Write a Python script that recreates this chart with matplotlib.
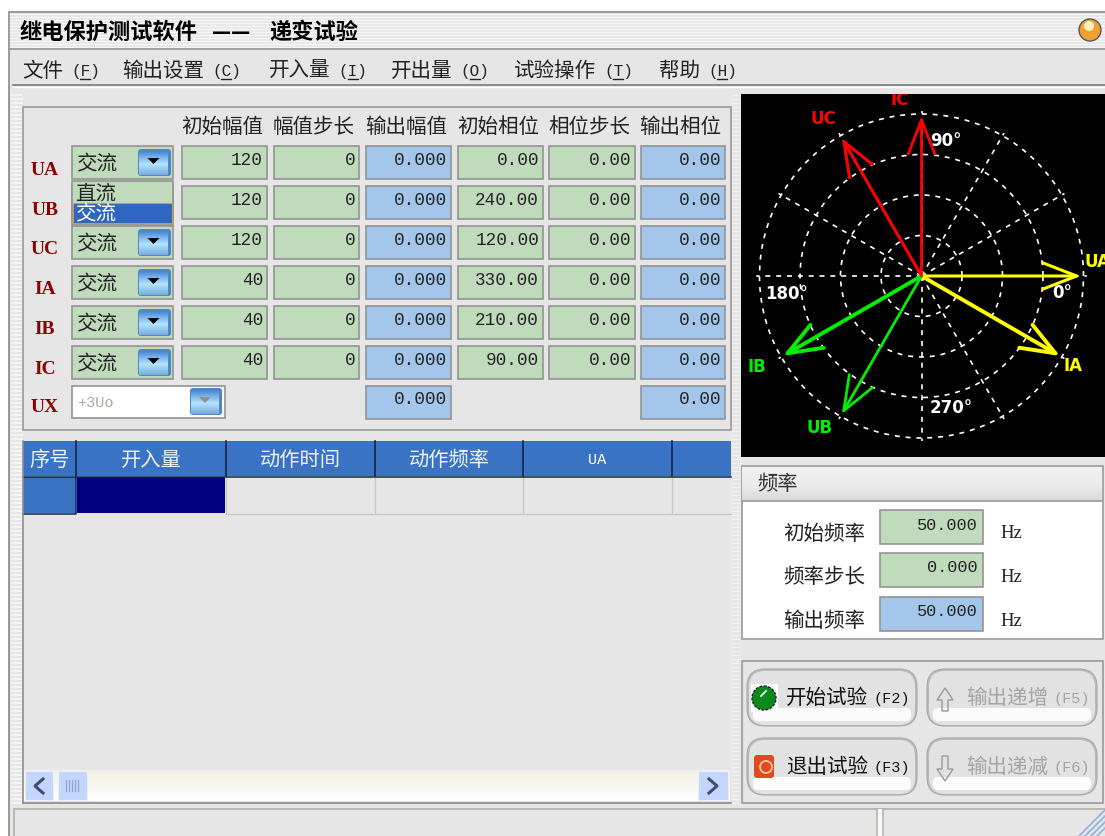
import numpy as np
import matplotlib
matplotlib.use("Agg")
import matplotlib.pyplot as plt
from matplotlib.patches import Rectangle, FancyBboxPatch, Circle, Polygon

plt.rcParams['font.family'] = ['Noto Sans CJK SC', 'DejaVu Sans']

# ---------- data ----------
channels = ['UA', 'UB', 'UC', 'IA', 'IB', 'IC']
col_headers = ['初始幅值', '幅值步长', '输出幅值', '初始相位', '相位步长', '输出相位']
start_amp = ['120', '120', '120', '40', '40', '40']
amp_step = ['0', '0', '0', '0', '0', '0']
out_amp = ['0.000'] * 7
start_phase = ['0.00', '240.00', '120.00', '330.00', '210.00', '90.00']
phase_step = ['0.00'] * 6
out_phase = ['0.00'] * 7
table_headers = ['序号', '开入量', '动作时间', '动作频率', 'UA', '']
menu_names = ['文件', '输出设置', '开入量', '开出量', '试验操作', '帮助']
menu_keys = ['F', 'C', 'I', 'O', 'T', 'H']
freq_labels = ['初始频率', '频率步长', '输出频率']
freq_values = ['50.000', '0.000', '50.000']

phasor_names = ['UA', 'UB', 'UC', 'IA', 'IB', 'IC']
phasor_deg = [0, 240, 120, 330, 210, 90]
phasor_mag = [120, 120, 120, 40, 40, 40]
phasor_full = [122, 122, 122, 40.5, 40.5, 40.5]
phasor_col = ['#ffff00', '#00ee00', '#ff0000', '#ffff00', '#00ee00', '#ff0000']
phasor_lw = [2.2, 2.0, 2.2, 2.8, 2.8, 2.0]

MONO = 'Liberation Mono'
SERIF = 'Liberation Serif'
BG = '#e6e6e6'
GREEN = '#c0dabc'
BLUE = '#a3c6ea'
EDGE = '#949494'

W, H = 1105, 837
fig = plt.figure(figsize=(W / 100, H / 100), dpi=100, facecolor='white')
ax = fig.add_axes([0, 0, 1, 1])
ax.set_axis_off()


def rect(x0, y0, x1, y1, fc=BG, ec='none', lw=1.0, z=1):
    ax.add_patch(Rectangle((x0, y0), x1 - x0, y1 - y0, facecolor=fc, edgecolor=ec, linewidth=lw, zorder=z))


def cn(x, y, s, size=14.8, color='#111111', ha='left', weight='normal', z=6):
    return ax.text(x, y + 2, s, fontsize=size, color=color, ha=ha, va='center', weight=weight, zorder=z)


def mono(x, y, s, size=12.7, color='#222222', ha='left', weight='normal', z=6):
    return ax.text(x, y, s, fontsize=size, family=MONO, color=color, ha=ha, va='center', weight=weight, zorder=z)


def vgrad(x0, y0, x1, y1, top, mid, bot, z=3):
    c = np.array([matplotlib.colors.to_rgb(v) for v in (top, mid, bot)])
    t = np.linspace(0, 1, 24)
    img = np.stack([np.interp(t, [0, .55, 1], c[:, i]) for i in range(3)], axis=1)[:, None, :]
    ax.imshow(img, extent=(x0, x1, y1, y0), aspect='auto', zorder=z, interpolation='bilinear')


# ---------- window ----------
rect(8.5, 12.5, 1106, 838, fc=BG, ec='#8a8a8a', lw=1.2, z=0)
for y in range(15, 49, 3):
    ax.plot([10, 1105], [y, y], color='#f6f6f6', lw=1.0, zorder=1)
ax.plot([9, 1105], [50, 50], color='#969696', lw=1.2, zorder=2)
ax.plot([13, 1105], [86, 86], color='#7a7a7a', lw=1.2, zorder=2)
ax.plot([13, 1105], [88, 88], color='#ffffff', lw=1.0, zorder=2)
for y in range(96, 806, 4):
    ax.plot([12, 22], [y, y], color='#f7f7f7', lw=1.2, zorder=1)
    ax.plot([731, 741], [y, y], color='#f0f0f0', lw=1.0, zorder=1)

cn(20, 30, '继电保护测试软件', size=16, weight='bold', color='black')
cn(212, 30, '——', size=15.2, weight='bold', color='black')
cn(269, 30, '递变试验', size=16, weight='bold', color='black')
ax.add_patch(Circle((1090, 31), 11, fc='#f0a030', ec='#555555', lw=1.0, zorder=3))
ax.add_patch(Circle((1089, 27), 5, fc='#fff0c0', ec='none', zorder=4))

menu_x = [22, 122, 269, 391, 514, 659]
for x, name, key in zip(menu_x, menu_names, menu_keys):
    w = 20.5 * len(name)
    cn(x, 69, name, color='#222222')
    mono(x + w + 8, 71, f'({key})', size=11.5, color='#222222')
    ax.plot([x + w + 17, x + w + 27], [80, 80], color='#222222', lw=1, zorder=6)

# ---------- parameter group ----------
rect(22.5, 107.5, 731, 431, fc=BG, ec='#9a9a9a', lw=1.2)
col_x = [(181, 267), (273, 359), (365, 451), (457, 543), (548, 635), (640, 725)]
row_y = [163, 203, 243, 283, 323, 363, 403]
label_y = [170, 210, 249, 289, 329, 369, 408]
for (x0, x1), h in zip(col_x, col_headers):
    cn((x0 + x1) / 2 - 2, 125, h, ha='center', size=14.8, color='#222222')


def field(col, y, s, fc):
    x0, x1 = col_x[col]
    rect(x0 + .5, y - 16.5, x1 - .5, y + 16.5, fc=fc, ec=EDGE, lw=1.2, z=2)
    mono(x1 - 4, y - 3, s, ha='right')


def dropbtn(x0, y0, x1, y1, tri='black'):
    ax.add_patch(FancyBboxPatch((x0 + 3, y0 + 3), x1 - x0 - 6, y1 - y0 - 6, boxstyle='round,pad=3,rounding_size=3',
                                fc='#4f86c6', ec='none', zorder=3))
    vgrad(x0 + 1, y0 + 2, x1 - 3, y1 - 1, '#4a88d6', '#b4e4ff', '#78aee0', z=3.5)
    cx = (x0 + x1) / 2 - 1
    ax.add_patch(Polygon([(cx - 6, y0 + 9), (cx + 6, y0 + 9), (cx, y0 + 15)], closed=True, fc=tri, ec='none', zorder=5))


for i, ch in enumerate(channels + ['UX']):
    y = row_y[i]
    ax.text(45, label_y[i], ch, fontsize=14, family=SERIF, weight='bold', color='#8b0000', ha='center', va='center', zorder=6)
    if i < 6:
        rect(71.5, y - 16.5, 173, y + 16.5, fc=GREEN, ec=EDGE, lw=1.2, z=2)
        if i != 1:
            cn(76, y - 1, '交流', color='#222222')
            dropbtn(138, y - 13, 171, y + 14)
        field(0, y, start_amp[i], GREEN)
        field(1, y, amp_step[i], GREEN)
        field(3, y, start_phase[i], GREEN)
        field(4, y, phase_step[i], GREEN)
    field(2, y, out_amp[i], BLUE)
    field(5, y, out_phase[i], BLUE)

# open drop-down of the UB row
rect(72, 182, 173, 226, fc=GREEN, ec=EDGE, lw=1.2, z=7)
cn(75, 192, '直流', color='#222222', z=8)
rect(73, 204, 172, 224, fc='#2f66c0', ec='#c89a50', lw=0.8, z=8)
cn(75, 212, '交流', color='white', z=9)

# UX combo
rect(71.5, 386.5, 225, 419, fc='white', ec=EDGE, lw=1.2, z=2)
mono(77, 403, '+3Uo', size=11, color='#a8a8a0')
dropbtn(190, 389, 222, 416, tri='#909090')

# ---------- results table ----------
rect(23, 442, 731, 804, fc=BG, ec='none')
tx = [23, 76, 226, 375, 523, 672, 731]
for i, h in enumerate(table_headers):
    rect(tx[i], 442, tx[i + 1], 477, fc='#3a72c4', ec='none', z=2)
    if i:
        ax.plot([tx[i], tx[i]], [442, 477], color='#10264a', lw=1.2, zorder=3)
    if h == 'UA':
        mono((tx[i] + tx[i + 1]) / 2, 460, h, size=11, color='white')
        ax.texts[-1].set_ha('center')
    elif h:
        cn((tx[i] + tx[i + 1]) / 2, 458, h, ha='center', color='#eef2fa', size=14.6)
    if i >= 2:
        ax.plot([tx[i], tx[i]], [478, 514], color='#c8c8c8', lw=1.0, zorder=3)
ax.plot([23, 731], [477.5, 477.5], color='#10264a', lw=1.1, zorder=3)
rect(23, 478, 76, 514, fc='#3a72c4', ec='none', z=2)
ax.plot([23, 76, 76], [514.5, 514.5, 478], color='#10264a', lw=1.1, zorder=3)
rect(77, 478, 225, 514, fc='#000080', ec='none', z=2)
ax.plot([226, 731], [514.5, 514.5], color='#c8c8c8', lw=1.0, zorder=3)
ax.plot([23, 23], [442, 804], color='#8f8f8f', lw=1.2, zorder=3)
ax.plot([23, 731], [804, 804], color='#8a8a8a', lw=1.2, zorder=3)

# scroll bar
vgrad(24, 771, 730, 802, '#f2f1e6', '#f8f8f0', '#ffffff', z=2)
for x0, x1, mk in [(25, 53, 'l'), (698, 728, 'r')]:
    rect(x0, 772, x1, 801, fc='#c4d6fb', ec='#e8efff', lw=0.8, z=3)
    cx = (x0 + x1) / 2
    pts = [(cx + 4, 780), (cx - 4, 787), (cx + 4, 794)] if mk == 'l' else [(cx - 4, 780), (cx + 4, 787), (cx - 4, 794)]
    ax.plot(*zip(*pts), color='#3c4e78', lw=2.2, zorder=5)
rect(58, 772, 87, 801, fc='#c4d6fb', ec='#e8efff', lw=0.8, z=3)
for x in range(66, 80, 3):
    ax.plot([x, x], [781, 792], color='#8fa3cf', lw=0.9, zorder=5)

# ---------- frequency panel ----------
rect(741.5, 467, 1103, 640, fc='white', ec='#9a9a9a', lw=1.2)
vgrad(742, 468, 1102, 502, '#f0f0f0', '#ececec', '#d8d8d8')
ax.plot([742, 1102], [502, 502], color='#9a9a9a', lw=1.2, zorder=4)
cn(757, 482, '频率', color='#333333', size=14.6)
freq_y = [528, 571, 615]
freq_fc = [GREEN, GREEN, BLUE]
for y, lab, val, fc in zip(freq_y, freq_labels, freq_values, freq_fc):
    cn(783, y + 4, lab, color='#222222', size=14.8)
    rect(879.5, y - 17, 983, y + 17, fc=fc, ec=EDGE, lw=1.2, z=3)
    mono(978, y - 3, val, ha='right', size=12.2)
    ax.text(1000, y + 6, 'Hz', fontsize=13.5, family=SERIF, color='#222222', ha='left', va='center', zorder=6)

# ---------- button panel ----------
rect(741.5, 661.5, 1103, 804, fc=BG, ec='#9a9a9a', lw=1.2)
btn_x = [747, 927]
btn_y = [670, 739]
btn_w, btn_h = 170, 57
btn_text = [['开始试验', '输出递增'], ['退出试验', '输出递减']]
btn_key = [['(F2)', '(F5)'], ['(F3)', '(F6)']]
for r, y0 in enumerate(btn_y):
    for c, x0 in enumerate(btn_x):
        ax.add_patch(FancyBboxPatch((x0 + 6, y0 + 6), btn_w - 12, btn_h - 12, boxstyle='round,pad=6,rounding_size=18',
                                    fc='#bcbcbc', ec='#a8a8a8', lw=0.8, zorder=2))
        ax.add_patch(FancyBboxPatch((x0 + 7, y0 + 7), btn_w - 14, btn_h - 13, boxstyle='round,pad=5,rounding_size=16',
                                    fc='#e2e2e2', ec='none', zorder=3))
        ax.add_patch(FancyBboxPatch((x0 + 10, y0 + 43), btn_w - 20, 5, boxstyle='round,pad=4,rounding_size=5',
                                    fc='#fbfbfb', ec='none', zorder=4))
        active = c == 0
        tc = '#111111' if active else '#a4a4a4'
        tx0 = 786 if active else 966
        cn(tx0, y0 + 26, btn_text[r][c], color=tc)
        mono(tx0 + 88, y0 + 29, btn_key[r][c], color=tc, size=11)
# icons
rect(751, 685, 778, 713, fc='white', ec='none', z=5)
ax.add_patch(Circle((764, 699), 12, fc='#0a8a1e', ec='#222222', lw=1.0, ls=(0, (2, 1)), zorder=6))
ax.plot([761, 766], [697, 692], color='white', lw=1.2, zorder=7)
ax.add_patch(FancyBboxPatch((757, 759), 14, 17, boxstyle='round,pad=3,rounding_size=3', fc='#e04a20', ec='none', zorder=6))
ax.add_patch(Circle((766, 768), 6, fc='none', ec='#ffd0b0', lw=1.2, zorder=7))
ax.add_patch(Polygon([(945, 689), (953, 701), (948, 701), (948, 712), (942, 712), (942, 701), (937, 701)], closed=True,
                     fc='none', ec='#9a9a9a', lw=1.0, zorder=6))
ax.add_patch(Polygon([(945, 782), (953, 770), (948, 770), (948, 757), (942, 757), (942, 770), (937, 770)], closed=True,
                     fc='none', ec='#9a9a9a', lw=1.0, zorder=6))

# ---------- status bar ----------
ax.plot([14, 1105], [810, 810], color='#b8b8b0', lw=1.4, zorder=2)
ax.plot([14, 14], [810, 837], color='#b8b8b0', lw=1.4, zorder=2)
ax.plot([877, 877], [810, 837], color='#b8b8b0', lw=1.2, zorder=2)
ax.plot([883, 883], [810, 837], color='#b8b8b0', lw=1.2, zorder=2)
rect(878, 810, 882, 837, fc='#f8f8f8', z=2)
for d in (8, 14, 20, 26):
    ax.plot([1105 - d, 1105], [837, 837 - d], color='#8fb0dc', lw=1.2, zorder=3)

# ---------- phasor panel ----------
panel = Rectangle((741, 95), 364, 363, facecolor='black', edgecolor='none', zorder=2)
ax.add_patch(panel)
label_pos = {'UA': (1097, 262), 'UB': (820, 428), 'UC': (823, 119), 'IA': (1073, 366), 'IB': (757, 367), 'IC': (900, 100)}
for name, col in zip(phasor_names, phasor_col):
    t = ax.text(*label_pos[name], name, fontsize=12, family='DejaVu Sans', weight='bold', color=col,
                ha='center', va='center', zorder=4)
    t.set_clip_path(panel)
    t.set_clip_on(True)
for lab, (x, y) in {'90°': (946, 141), '180°': (787, 294), '0°': (1062, 293), '270°': (951, 408)}.items():
    ax.text(x, y, lab, fontsize=12, family='DejaVu Sans', weight='bold', color='white', ha='center', va='center', zorder=4)

ax.set_xlim(0, W)
ax.set_ylim(H, 0)

cx, cy, R = 921.5, 277, 162
RMAX = 1.02
pol = fig.add_axes([(cx - R * RMAX) / W, (H - cy - R * RMAX) / H, 2 * R * RMAX / W, 2 * R * RMAX / H], projection='polar')
pol.patch.set_alpha(0)
pol.set_ylim(0, RMAX)
pol.set_yticks([0.25, 0.5, 0.75, 1.0])
pol.set_xticks(np.deg2rad(np.arange(0, 360, 30)))
pol.set_xticklabels([])
pol.set_yticklabels([])
pol.tick_params(length=0)
pol.grid(True, color='white', lw=1.2, ls=(0, (3, 3.5)))
pol.spines['polar'].set_visible(False)
for d, m, f, col, lw in zip(phasor_deg, phasor_mag, phasor_full, phasor_col, phasor_lw):
    pol.annotate('', xy=(np.deg2rad(d), m / f), xytext=(0, 0), annotation_clip=False,
                 arrowprops=dict(arrowstyle='->,head_length=1.75,head_width=0.68', color=col, lw=lw,
                                 shrinkA=0, shrinkB=0, mutation_scale=14))

fig.savefig('out.png', dpi=100, facecolor='white')
